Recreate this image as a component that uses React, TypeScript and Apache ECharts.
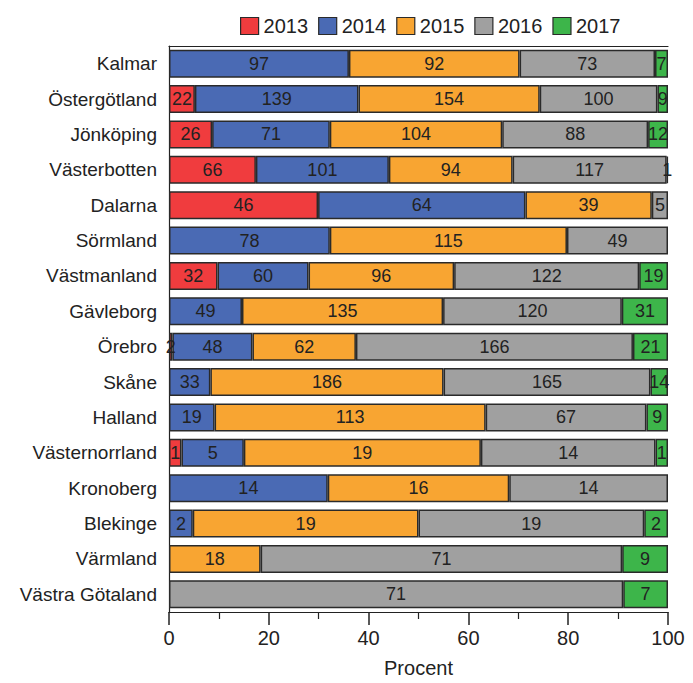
import React, { useEffect, useRef } from "react";
import * as echarts from "echarts";

const categories = [
  "Kalmar", "Östergötland", "Jönköping", "Västerbotten", "Dalarna", "Sörmland",
  "Västmanland", "Gävleborg", "Örebro", "Skåne", "Halland", "Västernorrland",
  "Kronoberg", "Blekinge", "Värmland", "Västra Götaland",
];
const years = ["2013", "2014", "2015", "2016", "2017"];
const c2013 = [0, 22, 26, 66, 46, 0, 32, 0, 2, 0, 0, 1, 0, 0, 0, 0];
const c2014 = [97, 139, 71, 101, 64, 78, 60, 49, 48, 33, 19, 5, 14, 2, 0, 0];
const c2015 = [92, 154, 104, 94, 39, 115, 96, 135, 62, 186, 113, 19, 16, 19, 18, 0];
const c2016 = [73, 100, 88, 117, 5, 49, 122, 120, 166, 165, 67, 14, 14, 19, 71, 71];
const c2017 = [7, 9, 12, 1, 0, 0, 19, 31, 21, 14, 9, 1, 0, 2, 9, 7];
const xTicks = [0, 20, 40, 60, 80, 100];

const counts = [c2013, c2014, c2015, c2016, c2017];
const colors = ["#F03C3E", "#4A6AB4", "#F8A532", "#A0A0A0", "#3DB54A"];

export default function App() {
  const ref = useRef<HTMLDivElement>(null);
  useEffect(() => {
    if (!ref.current) return;
    const chart = echarts.init(ref.current, null, { renderer: "svg" });
    const totals = categories.map((_, i) => counts.reduce((s, arr) => s + arr[i], 0));
    const font = "'Liberation Sans', Arial, sans-serif";
    const series = years.map((y, si) => ({
      name: y,
      type: "bar",
      stack: "total",
      barCategoryGap: "21%",
      itemStyle: { color: colors[si], borderColor: "#2a2a2a", borderWidth: 1.5 },
      label: {
        show: true,
        position: "inside",
        color: "#222",
        fontSize: 18,
        fontFamily: font,
        formatter: (p: any) => String(counts[si][p.dataIndex]),
      },
      emphasis: { disabled: true },
      data: counts[si].map((v, i) => (v === 0 ? "-" : (v / totals[i]) * 100)),
    }));
    chart.setOption({
      animation: false,
      textStyle: { fontFamily: font },
      legend: {
        left: 235,
        top: 11,
        itemWidth: 18,
        itemHeight: 17,
        itemGap: 10,
        icon: "rect",
        selectedMode: false,
        itemStyle: { borderColor: "#2a2a2a", borderWidth: 1.2 },
        textStyle: { fontSize: 20, color: "#222", fontFamily: font },
        data: years,
      },
      grid: { left: 169, right: 25, top: 46, bottom: 68.5, containLabel: false },
      xAxis: [
        {
          type: "value",
          min: 0,
          max: 100,
          interval: 20,
          position: "bottom",
          name: "Procent",
          nameLocation: "middle",
          nameGap: 46,
          nameTextStyle: { fontSize: 20, color: "#222", fontFamily: font },
          axisLine: { show: true, lineStyle: { color: "#222", width: 1.2 } },
          axisTick: { show: true, length: 13, lineStyle: { color: "#222", width: 1.5 } },
          minorTick: { show: true, splitNumber: 2, length: 7, lineStyle: { color: "#222", width: 1.2 } },
          axisLabel: {
            margin: 16,
            fontSize: 20,
            color: "#222",
            fontFamily: font,
            customValues: xTicks,
          },
          splitLine: { show: false },
        },
        {
          type: "value",
          min: 0,
          max: 100,
          position: "top",
          axisLine: { show: true, lineStyle: { color: "#222", width: 1.2 } },
          axisTick: { show: false },
          axisLabel: { show: false },
          splitLine: { show: false },
        },
      ],
      yAxis: {
        type: "category",
        data: categories,
        inverse: true,
        axisLine: { show: true, lineStyle: { color: "#222", width: 1.2 } },
        axisTick: { show: false },
        axisLabel: { margin: 12, fontSize: 19, color: "#222", fontFamily: font },
      },
      series,
    });
    return () => chart.dispose();
  }, []);
  return <div ref={ref} style={{ width: 693, height: 683, position: "absolute", left: 0, top: 0 }} />;
}
